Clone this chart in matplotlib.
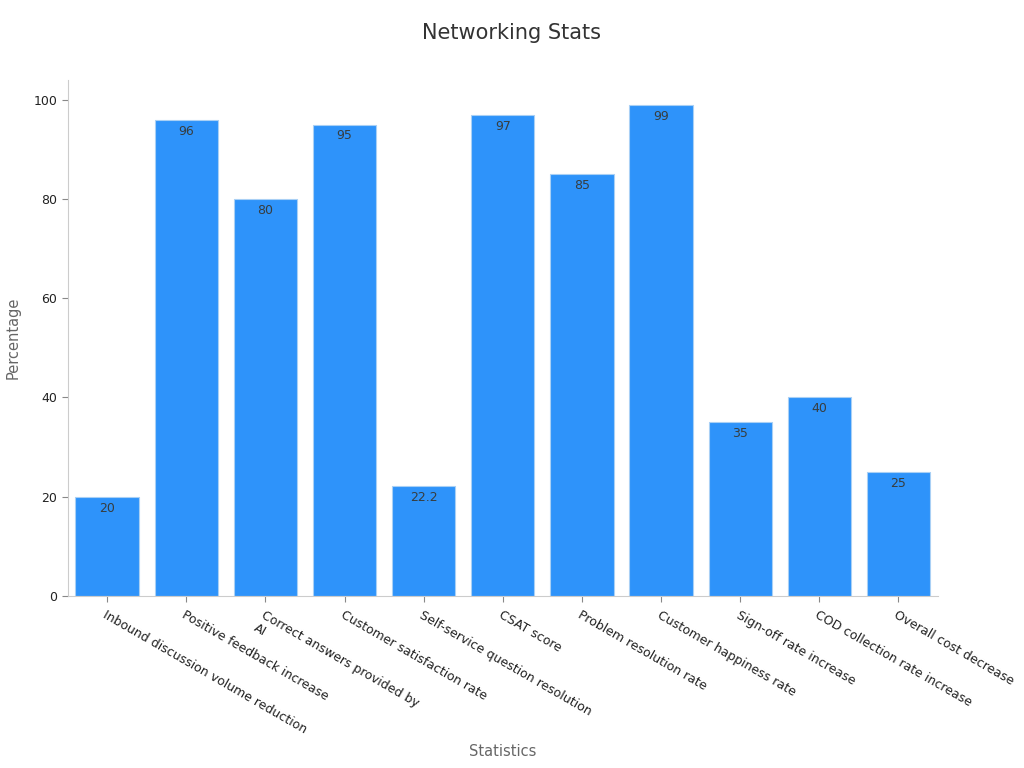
import matplotlib.pyplot as plt

categories = ['Inbound discussion volume reduction', 'Positive feedback increase',
              'Correct answers provided by\nAI', 'Customer satisfaction rate',
              'Self-service question resolution', 'CSAT score', 'Problem resolution rate',
              'Customer happiness rate', 'Sign-off rate increase',
              'COD collection rate increase', 'Overall cost decrease']
values = [20, 96, 80, 95, 22.2, 97, 85, 99, 35, 40, 25]
value_labels = ['20', '96', '80', '95', '22.2', '97', '85', '99', '35', '40', '25']

fig = plt.figure(figsize=(10.24, 7.68), dpi=100)
ax = fig.add_axes([0.066, 0.224, 0.85, 0.672])

x = range(len(categories))
bars = ax.bar(x, values, width=0.8, color='#2e93fa', edgecolor='#a9d0f5', linewidth=0.8)

for b, lbl in zip(bars, value_labels):
    ax.text(b.get_x() + b.get_width() / 2, b.get_height() - 1, lbl,
            ha='center', va='top', fontsize=9, color='#373d3f')

ax.set_xlim(-0.5, 10.5)
ax.set_ylim(0, 104)
ax.set_xticks(list(x))
ax.set_xticklabels(categories, rotation=-30, ha='left', va='top',
                   rotation_mode='anchor', fontsize=9, color='#222222')
ax.set_yticks([0, 20, 40, 60, 80, 100])
ax.tick_params(axis='y', labelsize=9, colors='#222222', length=4, color='#888888')
ax.tick_params(axis='x', length=4, color='#888888', pad=5)

for s in ['top', 'right']:
    ax.spines[s].set_visible(False)
ax.spines['left'].set_color('#cccccc')
ax.spines['bottom'].set_color('#cccccc')

ax.set_ylabel('Percentage', fontsize=10.5, color='#666666')
ax.yaxis.set_label_coords(-0.054, 0.5)
ax.set_xlabel('Statistics', fontsize=10.5, color='#666666')
ax.xaxis.set_label_coords(0.5, -0.287)
fig.text(0.5, 0.957, 'Networking Stats', ha='center', va='center', fontsize=15, color='#333333')

plt.savefig('out.png', dpi=100)
